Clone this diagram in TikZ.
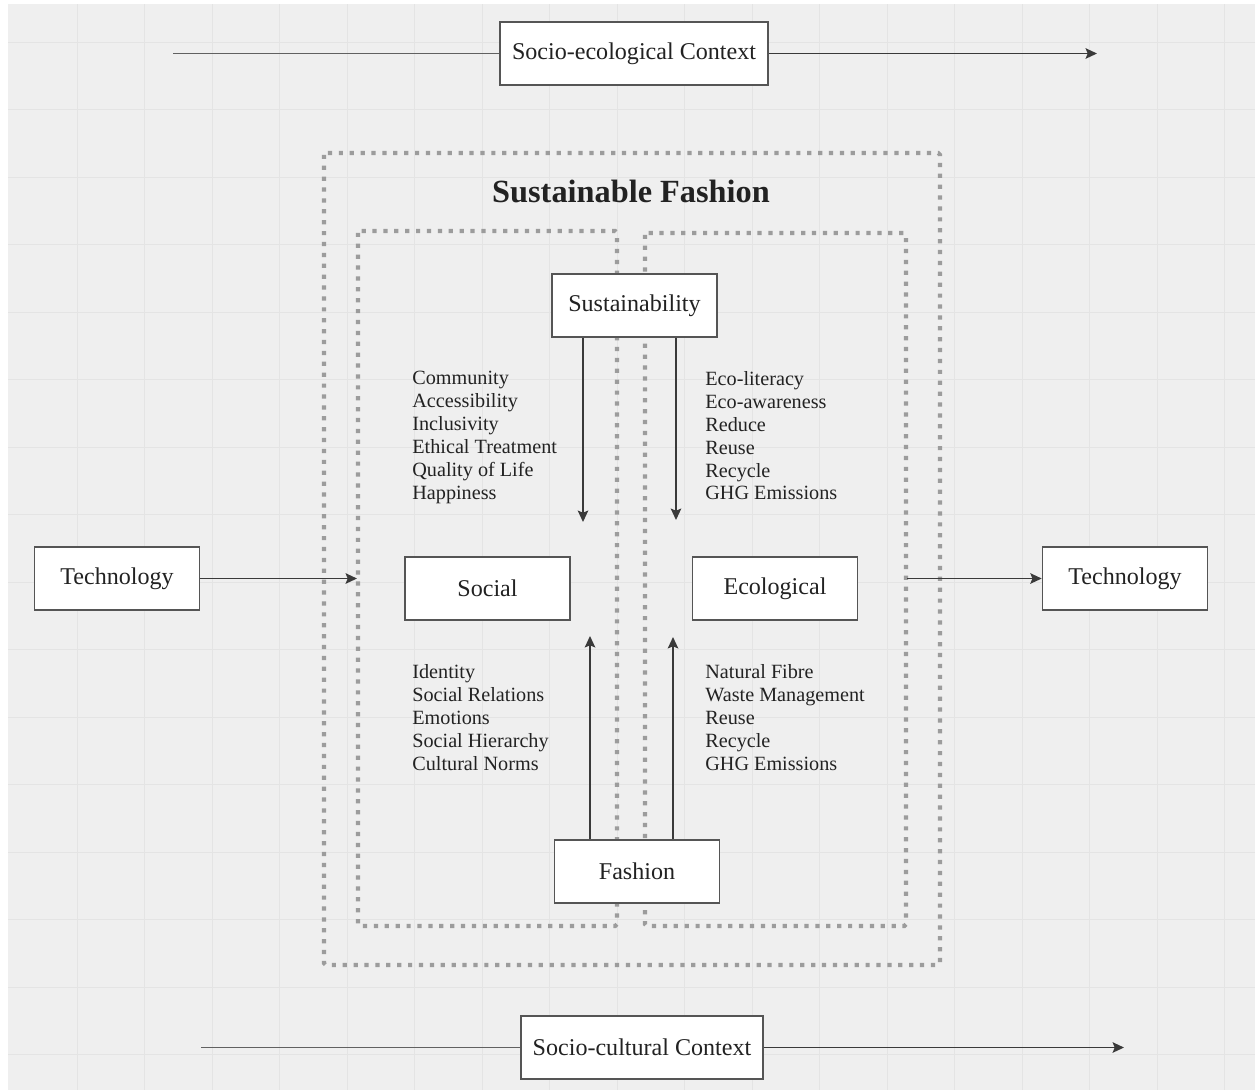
\documentclass[tikz,border=0pt]{standalone}
\usepackage{fontspec}
\setmainfont{Liberation Serif}
\usepackage{tikz}
\usetikzlibrary{arrows.meta}

\definecolor{bggray}{HTML}{EFEFEF}
\definecolor{gridgray}{HTML}{E4E4E4}
\definecolor{dotgray}{HTML}{9C9C9C}
\definecolor{boxgray}{HTML}{555555}
\definecolor{arrowgray}{HTML}{3A3A3A}
\definecolor{textgray}{HTML}{222222}

\tikzset{
  box/.style={draw=boxgray, fill=white, line width=0.9pt, minimum width=3.3cm,
    minimum height=1.26cm, inner sep=0pt, text=textgray, font=\fontsize{13.7}{16}\selectfont},
  flow/.style={draw=arrowgray, line width=0.85pt, -{Stealth[length=6.5pt,width=6pt,inset=1.2pt]}},
  plainline/.style={draw=arrowgray!80, line width=0.85pt},
  dotbox/.style={draw=dotgray, line width=2.4pt, dash pattern=on 2.4pt off 3.8pt, rounded corners=1pt},
  itemlist/.style={anchor=north west, inner sep=0pt, align=left, text=textgray,
    font=\fontsize{11.5}{13.04}\selectfont}
}

\begin{document}
\begin{tikzpicture}[x=0.02cm, y=-0.02cm]
\useasboundingbox (0,0) rectangle (1255,1090);
\fill[bggray] (8,4) rectangle (1255,1090);

% grid
\draw[gridgray, line width=0.55pt] (77,4) -- (77,1090);
\draw[gridgray, line width=0.55pt] (144.5,4) -- (144.5,1090);
\draw[gridgray, line width=0.55pt] (212,4) -- (212,1090);
\draw[gridgray, line width=0.55pt] (279.5,4) -- (279.5,1090);
\draw[gridgray, line width=0.55pt] (347,4) -- (347,1090);
\draw[gridgray, line width=0.55pt] (414.5,4) -- (414.5,1090);
\draw[gridgray, line width=0.55pt] (482,4) -- (482,1090);
\draw[gridgray, line width=0.55pt] (549.5,4) -- (549.5,1090);
\draw[gridgray, line width=0.55pt] (617,4) -- (617,1090);
\draw[gridgray, line width=0.55pt] (684.5,4) -- (684.5,1090);
\draw[gridgray, line width=0.55pt] (752,4) -- (752,1090);
\draw[gridgray, line width=0.55pt] (819.5,4) -- (819.5,1090);
\draw[gridgray, line width=0.55pt] (887,4) -- (887,1090);
\draw[gridgray, line width=0.55pt] (954.5,4) -- (954.5,1090);
\draw[gridgray, line width=0.55pt] (1022,4) -- (1022,1090);
\draw[gridgray, line width=0.55pt] (1089.5,4) -- (1089.5,1090);
\draw[gridgray, line width=0.55pt] (1157,4) -- (1157,1090);
\draw[gridgray, line width=0.55pt] (1224.5,4) -- (1224.5,1090);
\draw[gridgray, line width=0.55pt] (8,42) -- (1255,42);
\draw[gridgray, line width=0.55pt] (8,109.5) -- (1255,109.5);
\draw[gridgray, line width=0.55pt] (8,177) -- (1255,177);
\draw[gridgray, line width=0.55pt] (8,244.5) -- (1255,244.5);
\draw[gridgray, line width=0.55pt] (8,312) -- (1255,312);
\draw[gridgray, line width=0.55pt] (8,379.5) -- (1255,379.5);
\draw[gridgray, line width=0.55pt] (8,447) -- (1255,447);
\draw[gridgray, line width=0.55pt] (8,514.5) -- (1255,514.5);
\draw[gridgray, line width=0.55pt] (8,582) -- (1255,582);
\draw[gridgray, line width=0.55pt] (8,649.5) -- (1255,649.5);
\draw[gridgray, line width=0.55pt] (8,717) -- (1255,717);
\draw[gridgray, line width=0.55pt] (8,784.5) -- (1255,784.5);
\draw[gridgray, line width=0.55pt] (8,852) -- (1255,852);
\draw[gridgray, line width=0.55pt] (8,919.5) -- (1255,919.5);
\draw[gridgray, line width=0.55pt] (8,987) -- (1255,987);
\draw[gridgray, line width=0.55pt] (8,1054.5) -- (1255,1054.5);

% dotted frames
\draw[dotbox] (324,153) rectangle (940,965);
\draw[dotbox] (358,231) rectangle (617,926);
\draw[dotbox] (645,233) rectangle (906,926);

\node[text=textgray, font=\fontsize{18.4}{22}\bfseries] (title) at (631,191) {Sustainable Fashion};

% boxes
\node[box, minimum width=5.36cm] (ecoctx) at (634,53.5) {Socio-ecological Context};
\node[box, minimum width=4.84cm] (culctx) at (642,1047.5) {Socio-cultural Context};
\node[box] (sust) at (634.5,305.5) {Sustainability};
\node[box] (fash) at (637,871.5) {Fashion};
\node[box] (social) at (487.5,588.5) {Social};
\node[box] (ecol) at (775,588.5) {Ecological};
\node[box] (techL) at (117,578.5) {Technology};
\node[box] (techR) at (1125,578.5) {Technology};

% free ends
\coordinate (ecoStart) at (173,53.5);
\coordinate (ecoEnd) at (1097,53.5);
\coordinate (culStart) at (201,1047.5);
\coordinate (culEnd) at (1124,1047.5);
\coordinate (sfIn) at (357,578.5);
\coordinate (sfOut) at (907,578.5);
\coordinate (sustL) at (583,522);
\coordinate (sustR) at (676,520);
\coordinate (fashL) at (590,636);
\coordinate (fashR) at (673,637);

% connectors
\draw[plainline] (ecoStart) -- (ecoctx);
\draw[flow] (ecoctx) -- (ecoEnd);
\draw[plainline] (culStart) -- (culctx);
\draw[flow] (culctx) -- (culEnd);
\draw[flow] (techL) -- (sfIn);
\draw[flow] (sfOut) -- (techR);
\draw[flow] (sust.south -| sustL) -- (sustL);
\draw[flow] (sust.south -| sustR) -- (sustR);
\draw[flow] (fash.north -| fashL) -- (fashL);
\draw[flow] (fash.north -| fashR) -- (fashR);

% lists
\node[itemlist] (socUp) at (412,371) {Community\\Accessibility\\Inclusivity\\Ethical Treatment\\Quality of Life\\Happiness};
\node[itemlist] (socLow) at (412,664) {Identity\\Social Relations\\Emotions\\Social Hierarchy\\Cultural Norms};
\node[itemlist] (ecoUp) at (705,371) {Eco-literacy\\Eco-awareness\\Reduce\\Reuse\\Recycle\\GHG Emissions};
\node[itemlist] (ecoLow) at (705,664) {Natural Fibre\\Waste Management\\Reuse\\Recycle\\GHG Emissions};
\end{tikzpicture}
\end{document}
